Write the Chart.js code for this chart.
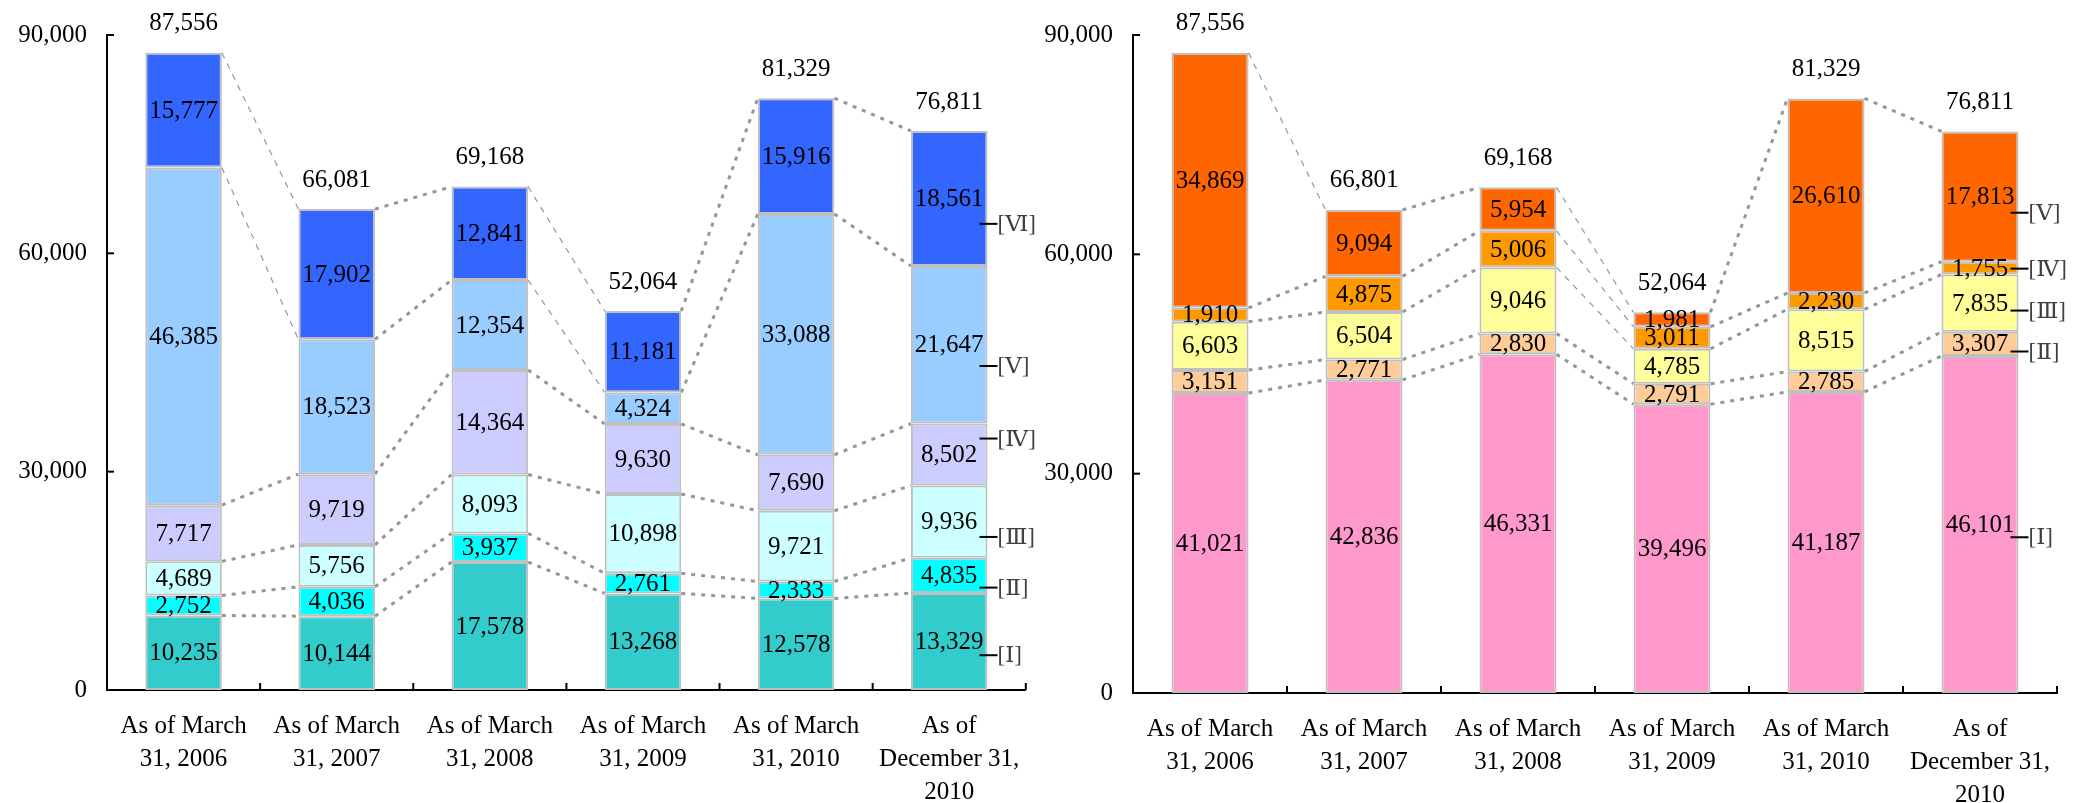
<!DOCTYPE html>
<html>
<head>
<meta charset="utf-8">
<script src="https://cdn.jsdelivr.net/npm/chart.js@4.4.1/dist/chart.umd.min.js"></script>
<style>
  html, body { margin: 0; padding: 0; background: #fff; }
  #wrap { position: relative; width: 2078px; height: 803px; }
  #left { position: absolute; left: 0; top: 0; }
  #right { position: absolute; left: 1040px; top: 0; }
</style>
</head>
<body>
<div id="wrap">
  <canvas id="left" width="1040" height="803"></canvas>
  <canvas id="right" width="1038" height="803"></canvas>
</div>
<script>
var categories = [
  ["As of March", "31, 2006"],
  ["As of March", "31, 2007"],
  ["As of March", "31, 2008"],
  ["As of March", "31, 2009"],
  ["As of March", "31, 2010"],
  ["As of", "December 31,", "2010"]
];

// left panel, six layers from the bottom up
var leftNames = ["[Ⅰ]", "[Ⅱ]", "[Ⅲ]", "[Ⅳ]", "[Ⅴ]", "[Ⅵ]"];
var leftColors = ["#33CCCC", "#00FFFF", "#CCFFFF", "#CCCCFF", "#99CCFF", "#3366FF"];
var leftI = [10235, 10144, 17578, 13268, 12578, 13329];
var leftII = [2752, 4036, 3937, 2761, 2333, 4835];
var leftIII = [4689, 5756, 8093, 10898, 9721, 9936];
var leftIV = [7717, 9719, 14364, 9630, 7690, 8502];
var leftV = [46385, 18523, 12354, 4324, 33088, 21647];
var leftVI = [15777, 17902, 12841, 11181, 15916, 18561];
var leftTotals = ["87,556", "66,081", "69,168", "52,064", "81,329", "76,811"];
var leftTagAt = [4780, 14070, 21030, 34550, 44520, 64050];

// right panel, five layers
var rightNames = ["[Ⅰ]", "[Ⅱ]", "[Ⅲ]", "[Ⅳ]", "[Ⅴ]"];
var rightColors = ["#FF99CC", "#FFCC99", "#FFFF99", "#FF9900", "#FF6600"];
var rightI = [41021, 42836, 46331, 39496, 41187, 46101];
var rightII = [3151, 2771, 2830, 2791, 2785, 3307];
var rightIII = [6603, 6504, 9046, 4785, 8515, 7835];
var rightIV = [1910, 4875, 5006, 3011, 2230, 1755];
var rightV = [34869, 9094, 5954, 1981, 26610, 17813];
var rightTotals = ["87,556", "66,801", "69,168", "52,064", "81,329", "76,811"];
var rightTagAt = [21300, 46710, 52310, 58040, 65690];

var serif = "'Liberation Serif', 'Times New Roman', serif";

function fmt(v) {
  return v.toLocaleString("en-US");
}

var stackDecor = {
  id: "stackDecor",
  beforeDatasetsDraw: function(chart) {
    // dotted lines joining each layer boundary from bar to bar
    var ctx = chart.ctx;
    var n = chart.data.datasets.length;
    ctx.save();
    ctx.strokeStyle = "#969696";
    for (var k = 0; k < n; k++) {
      var bars = chart.getDatasetMeta(k).data;
      for (var i = 0; i < bars.length - 1; i++) {
        var a = bars[i], b = bars[i + 1];
        var x1 = a.x + a.width / 2, y1 = a.y;
        var x2 = b.x - b.width / 2, y2 = b.y;
        var slope = (y2 - y1) / (x2 - x1);
        if (slope > 0.9) {
          ctx.lineWidth = 1.2;
          ctx.setLineDash([6, 6]);
        } else {
          ctx.lineWidth = 3;
          ctx.setLineDash([4, 6]);
        }
        ctx.beginPath();
        ctx.moveTo(x1, y1);
        ctx.lineTo(x2, y2);
        ctx.stroke();
      }
    }
    ctx.restore();
  },
  afterDatasetsDraw: function(chart, args, opts) {
    var ctx = chart.ctx;
    var n = chart.data.datasets.length;
    var yScale = chart.scales.y;
    ctx.save();
    ctx.fillStyle = "#000";
    ctx.textAlign = "center";
    ctx.textBaseline = "middle";
    ctx.font = "25px " + serif;
    for (var k = 0; k < n; k++) {
      var ds = chart.data.datasets[k];
      chart.getDatasetMeta(k).data.forEach(function(el, i) {
        ctx.fillText(fmt(ds.data[i]), el.x, (el.y + el.base) / 2 + 1);
      });
    }
    // totals above each stack
    chart.getDatasetMeta(n - 1).data.forEach(function(el, i) {
      ctx.fillText(opts.totals[i], el.x, el.y - 29);
    });

    // layer tags beside the last bar
    var last = chart.getDatasetMeta(0).data.length - 1;
    var lastBar = chart.getDatasetMeta(0).data[last];
    var edge = lastBar.x + lastBar.width / 2;
    ctx.font = "23px " + serif + ", 'DejaVu Serif'";
    ctx.textAlign = "left";
    opts.tagAt.forEach(function(v, k) {
      var y = yScale.getPixelForValue(v);
      ctx.strokeStyle = "#000";
      ctx.lineWidth = 2;
      ctx.beginPath();
      ctx.moveTo(edge - 8, y);
      ctx.lineTo(edge + 10, y);
      ctx.stroke();
      ctx.fillStyle = "#404040";
      ctx.fillText(opts.names[k], edge + 10, y + 1);
    });
    ctx.restore();
  },
  afterDraw: function(chart) {
    // short inward tick marks on both axes
    var ctx = chart.ctx;
    var area = chart.chartArea;
    var xs = chart.scales.x, ys = chart.scales.y;
    ctx.save();
    ctx.strokeStyle = "#000";
    ctx.lineWidth = 2;
    ys.ticks.forEach(function(t) {
      var y = ys.getPixelForValue(t.value);
      ctx.beginPath();
      ctx.moveTo(area.left, y);
      ctx.lineTo(area.left + 7, y);
      ctx.stroke();
    });
    for (var i = 1; i <= xs.ticks.length; i++) {
      var x = xs.getPixelForValue(i - 0.5);
      ctx.beginPath();
      ctx.moveTo(x, area.bottom);
      ctx.lineTo(x, area.bottom - 7);
      ctx.stroke();
    }
    ctx.restore();
  }
};

function makeChart(id, series, names, colors, totals, tagAt, axisWidth, padTop, padRight, xHeight) {
  var datasets = series.map(function(vals, k) {
    return {
      label: names[k],
      data: vals,
      backgroundColor: colors[k],
      borderColor: "#C0C0C0",
      borderWidth: 2,
      borderSkipped: false,
      barPercentage: 0.5,
      categoryPercentage: 1.0
    };
  });
  return new Chart(document.getElementById(id), {
    type: "bar",
    data: { labels: categories, datasets: datasets },
    options: {
      responsive: false,
      animation: false,
      devicePixelRatio: 1,
      layout: { padding: { top: padTop, right: padRight, left: 0, bottom: 0 } },
      plugins: {
        legend: { display: false },
        tooltip: { enabled: false },
        stackDecor: { totals: totals, tagAt: tagAt, names: names }
      },
      scales: {
        x: {
          stacked: true,
          grid: { display: false, drawTicks: false },
          border: { display: true, color: "#000", width: 2 },
          ticks: {
            color: "#000",
            padding: 20,
            maxRotation: 0,
            autoSkip: false,
            font: { family: serif, size: 25, lineHeight: 1.32 }
          },
          afterFit: function(s) { s.height = xHeight; }
        },
        y: {
          stacked: true,
          min: 0,
          max: 90000,
          grid: { display: false, drawTicks: false },
          border: { display: true, color: "#000", width: 2 },
          ticks: {
            stepSize: 30000,
            color: "#000",
            padding: 20,
            font: { family: serif, size: 25 },
            callback: function(v) { return fmt(v); }
          },
          afterFit: function(s) { s.width = axisWidth; }
        }
      }
    },
    plugins: [stackDecor]
  });
}

makeChart("left", [leftI, leftII, leftIII, leftIV, leftV, leftVI],
  leftNames, leftColors, leftTotals, leftTagAt, 107, 31, 8, 113);
makeChart("right", [rightI, rightII, rightIII, rightIV, rightV],
  rightNames, rightColors, rightTotals, rightTagAt, 93, 34, 21, 110);
</script>
</body>
</html>
